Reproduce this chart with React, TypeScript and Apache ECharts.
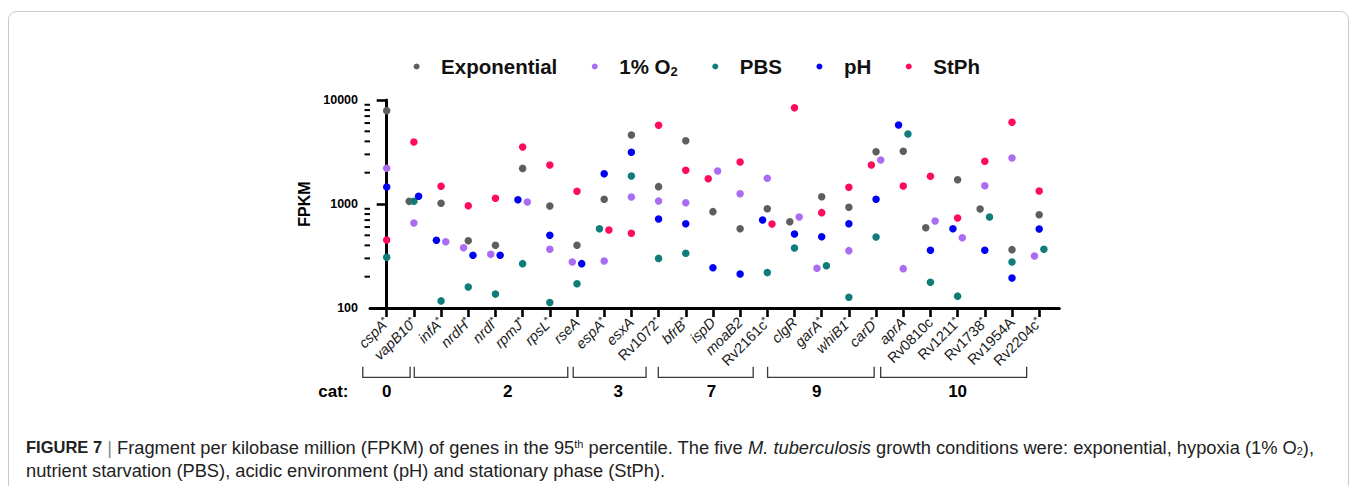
import React, { useEffect, useRef } from "react";
import * as echarts from "echarts";

// Genes in the 95th percentile, in plotting order
const genes = [
  "cspA", "vapB10", "infA", "nrdH", "nrdI", "rpmJ", "rpsL", "rseA", "espA", "esxA",
  "Rv1072", "bfrB", "ispD", "moaB2", "Rv2161c", "clgR", "garA", "whiB1", "carD",
  "aprA", "Rv0810c", "Rv1211", "Rv1738", "Rv1954A", "Rv2204c",
];
const starred = [
  true, true, true, true, true, true, true, false, true, false,
  true, true, false, false, true, false, true, true, true,
  false, false, true, true, false, true,
];

// FPKM per growth condition (null = below the plotted range)
const exponential = [7900, 1060, 1016, 444, 401, 2200, 957, 401, 1109, 4605, 1468, 4062, 844, 579, 901, 676, 1176, 929, 3185, 3212, 592, 1713, 895, 364, 789];
const hypoxia = [2205, 657, 434, 380, 328, 1045, 367, 277, 283, 1167, 1068, 1030, 2076, 1256, 1766, 750, 241, 356, 2649, 239, 687, 474, 1500, 2769, 316];
const pbs = [307, 1061, 117, 159, 136, 267, 113, 171, 579, 1858, 300, 336, null, null, 219, 377, 255, 127, 482, 4711, 177, 130, 750, 277, 367];
const ph = [1456, 1186, 448, 321, 321, 1100, 500, 267, 1956, 3141, 717, 647, 244, 212, 702, 515, 485, 647, 1109, 5752, 359, 579, 359, 194, 575];
const stph = [451, 3945, 1479, 963, 1134, 3532, 2371, 1325, 562, 523, 5711, 2109, 1751, 2533, 642, 8435, 826, 1447, 2371, 1490, 1846, 733, 2574, 6105, 1334];

const seriesNames = ["Exponential", "1% O2", "PBS", "pH", "StPh"];
const seriesValues = [exponential, hypoxia, pbs, ph, stph];
const seriesColors = ["#5e5e5e", "#a96cf2", "#0e7c78", "#0000f5", "#ff0a5c"];

// Side-by-side placement of overlapping dots within a gene column (-1 left, +1 right)
const dodge: Record<string, Record<string, number>> = {
  vapB10: { Exponential: -1, pH: 1 },
  infA: { pH: -1, "1% O2": 1 },
  nrdH: { "1% O2": -1, pH: 1 },
  nrdI: { "1% O2": -1, pH: 1 },
  rpmJ: { pH: -1, "1% O2": 1 },
  rseA: { "1% O2": -1, pH: 1 },
  espA: { PBS: -1, StPh: 1 },
  ispD: { StPh: -1, "1% O2": 1 },
  Rv2161c: { pH: -1, StPh: 1 },
  clgR: { Exponential: -1, "1% O2": 1 },
  garA: { "1% O2": -1, PBS: 1 },
  carD: { StPh: -1, "1% O2": 1 },
  aprA: { pH: -1, PBS: 1 },
  Rv0810c: { Exponential: -1, "1% O2": 1 },
  Rv1211: { pH: -1, "1% O2": 1 },
  Rv1738: { Exponential: -1, PBS: 1 },
  Rv2204c: { "1% O2": -1, PBS: 1 },
};
const DODGE_STEP = 0.173;

// Functional categories
const catLabels = ["0", "2", "3", "7", "9", "10"];
const catFirst = [0, 2, 8, 11, 15, 19];
const catLast = [1, 7, 10, 14, 18, 24];

// Bracket extents and label anchors, in category units along the x axis
const bracketFrom = [-0.88, 1.015, 6.86, 9.99, 14.01, 18.17];
const bracketTo = [0.86, 6.66, 9.54, 13.48, 17.93, 23.54];
const catLabelAt = [0, 4.45, 8.52, 11.95, 15.82, 21.0];

const yTicks = [100, 1000, 10000];

const FONT = '"Liberation Sans", Arial, Helvetica, sans-serif';

export default function App() {
  const ref = useRef<HTMLDivElement>(null);

  useEffect(() => {
    if (!ref.current) return;
    const chart = echarts.init(ref.current, null, { renderer: "svg" });

    const series = seriesNames.map((name, si) => ({
      name,
      type: "scatter",
      symbol: "circle",
      symbolSize: 7.5,
      itemStyle: { color: seriesColors[si], opacity: 1 },
      emphasis: { disabled: true },
      data: seriesValues[si]
        .map((v, gi) =>
          v == null ? null : [gi + (dodge[genes[gi]]?.[name] ?? 0) * DODGE_STEP, v]
        )
        .filter((d) => d !== null),
    }));

    const option: any = {
      animation: false,
      backgroundColor: "#ffffff",
      textStyle: { fontFamily: FONT },
      legend: {
        data: seriesNames,
        left: 408.6,
        top: 51,
        icon: "circle",
        itemWidth: 39,
        itemHeight: 6,
        itemGap: 34.5,
        selectedMode: false,
        formatter: (name: string) =>
          name === "1% O2" ? "{t|1% O}{sub|2}" : `{t|${name}}`,
        textStyle: {
          color: "#111",
          fontFamily: FONT,
          fontWeight: "bold",
          fontSize: 20.5,
          rich: {
            t: { fontFamily: FONT, fontWeight: "bold", fontSize: 20.5, color: "#111" },
            sub: { fontFamily: FONT, fontWeight: "bold", fontSize: 13, color: "#111", padding: [9, 0, 0, 0] },
          },
        },
      },
      grid: { left: 370, right: 297.7, top: 100, bottom: 178, containLabel: false },
      xAxis: {
        type: "value",
        min: -0.614,
        max: 24.74,
        splitLine: { show: false },
        axisLine: { show: true, lineStyle: { color: "#000", width: 3 } },
        axisTick: {
          show: true,
          length: 9,
          lineStyle: { color: "#000", width: 2.6 },
          customValues: genes.map((_, i) => i),
        },
        axisLabel: {
          rotate: 45,
          margin: 12,
          customValues: genes.map((_, i) => i),
          formatter: (v: number) => {
            const i = Math.round(v);
            const g = genes[i];
            if (!g) return "";
            const style = g.startsWith("Rv") ? "r" : "g";
            return `{${style}|${g}}` + (starred[i] ? "{s|*}" : "");
          },
          rich: {
            g: { fontFamily: FONT, fontSize: 14.5, fontStyle: "italic", color: "#1a1a1a" },
            r: { fontFamily: FONT, fontSize: 14.5, color: "#1a1a1a" },
            s: { fontFamily: FONT, fontSize: 10, color: "#1a1a1a", verticalAlign: "top", padding: [0, 0, 4, 0] },
          },
        },
      },
      yAxis: {
        type: "log",
        logBase: 10,
        min: 100,
        max: 10000,
        name: "FPKM",
        nameLocation: "middle",
        nameGap: 41,
        nameTextStyle: { fontFamily: FONT, fontWeight: "bold", fontSize: 16, color: "#000" },
        splitLine: { show: false },
        axisLine: { show: true, lineStyle: { color: "#000", width: 3 } },
        axisTick: { show: true, length: 10, lineStyle: { color: "#000", width: 2.6 } },
        axisLabel: {
          margin: 12,
          fontFamily: FONT,
          fontWeight: "bold",
          fontSize: 12.5,
          color: "#000",
          formatter: (v: number) => String(Math.round(v)),
        },
      },
      series,
    };

    chart.setOption(option);

    const px = (v: number) => chart.convertToPixel({ xAxisIndex: 0 }, v) as number;
    const py = (v: number) => chart.convertToPixel({ yAxisIndex: 0 }, v) as number;
    const axisX = px(-0.614);

    const graphic: any[] = [];

    // figure frame
    graphic.push({
      type: "rect",
      silent: true,
      z: -10,
      shape: { x: 8.5, y: 11.5, width: 1340, height: 600, r: 8 },
      style: { fill: "none", stroke: "#c9c9c9", lineWidth: 1 },
    });

    // log minor ticks on the y axis
    for (let d = 0; d < yTicks.length - 1; d++) {
      for (let k = 2; k <= 9; k++) {
        const y = py(yTicks[d] * k);
        graphic.push({
          type: "line",
          silent: true,
          shape: { x1: axisX - 5.5, y1: y, x2: axisX, y2: y },
          style: { stroke: "#000", lineWidth: 2 },
        });
      }
    }

    // category brackets under the gene labels
    const bTop = 366.7;
    const bBottom = 377.3;
    catLabels.forEach((lab, ci) => {
      const x1 = px(bracketFrom[ci]);
      const x2 = px(bracketTo[ci]);
      graphic.push({
        type: "polyline",
        silent: true,
        shape: { points: [[x1, bTop], [x1, bBottom], [x2, bBottom], [x2, bTop]] },
        style: { stroke: "#3a3a3a", lineWidth: 1.3, fill: "none" },
      });
      graphic.push({
        type: "text",
        silent: true,
        x: px(catLabelAt[ci]),
        y: 391,
        style: {
          text: lab,
          fontFamily: FONT,
          fontWeight: "bold",
          fontSize: 17,
          fill: "#000",
          align: "center",
          verticalAlign: "middle",
        },
      });
    });
    graphic.push({
      type: "text",
      silent: true,
      x: 348.5,
      y: 391,
      style: {
        text: "cat:",
        fontFamily: FONT,
        fontWeight: "bold",
        fontSize: 17,
        fill: "#000",
        align: "right",
        verticalAlign: "middle",
      },
    });

    // figure caption
    const CAP = 18.3;
    const capRich = {
      b: { fontFamily: FONT, fontSize: 16.5, fontWeight: "bold", fill: "#222" },
      sep: { fontFamily: FONT, fontSize: CAP, fill: "#888" },
      n: { fontFamily: FONT, fontSize: CAP, fill: "#222" },
      i: { fontFamily: FONT, fontSize: CAP, fontStyle: "italic", fill: "#222" },
      sup: { fontFamily: FONT, fontSize: 11, fill: "#222", verticalAlign: "top", padding: [0, 0, 7, 0] },
      sub: { fontFamily: FONT, fontSize: 11, fill: "#222", verticalAlign: "bottom", padding: [7, 0, 0, 0] },
    };
    graphic.push({
      type: "text",
      silent: true,
      x: 26,
      y: 447,
      style: {
        text:
          "{b|FIGURE 7}{n| }{sep||}{n| Fragment per kilobase million (FPKM) of genes in the 95}{sup|th}" +
          "{n| percentile. The five }{i|M. tuberculosis}{n| growth conditions were: exponential, hypoxia (1% O}{sub|2}{n|),}",
        rich: capRich,
        fontFamily: FONT,
        fontSize: CAP,
        align: "left",
        verticalAlign: "middle",
      },
    });
    graphic.push({
      type: "text",
      silent: true,
      x: 26,
      y: 470,
      style: {
        text: "{n|nutrient starvation (PBS), acidic environment (pH) and stationary phase (StPh).}",
        rich: capRich,
        fontFamily: FONT,
        fontSize: CAP,
        align: "left",
        verticalAlign: "middle",
      },
    });

    chart.setOption({ graphic });

    return () => chart.dispose();
  }, []);

  return (
    <div
      ref={ref}
      style={{ position: "fixed", left: 0, top: 0, width: 1357, height: 486, background: "#fff" }}
    />
  );
}
